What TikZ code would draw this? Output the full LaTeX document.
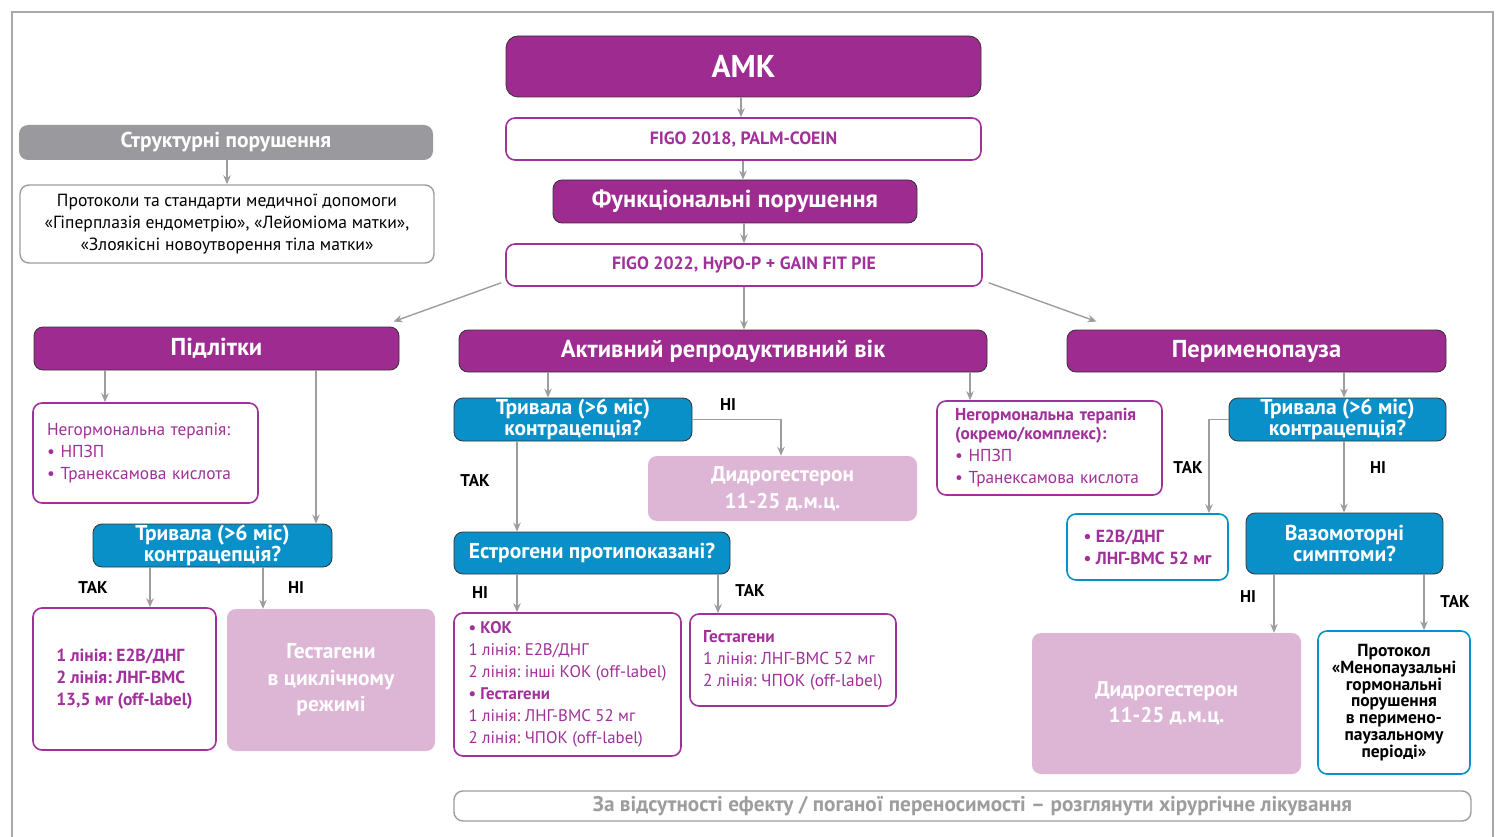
\documentclass[tikz,border=0pt]{standalone}
\usepackage{fontspec}
\setmainfont{PT Sans}
\usetikzlibrary{arrows.meta}
\definecolor{pur}{HTML}{9E2B8F}
\definecolor{purtxt}{HTML}{A1309A}
\definecolor{blu}{HTML}{0A90C8}
\definecolor{pinkf}{HTML}{DDB5D5}
\definecolor{gr}{HTML}{9D9D9D}
\definecolor{grfill}{HTML}{9A9A9E}
\definecolor{frame}{HTML}{A8A8A8}
\newcommand\mybox[7]{\node[#2, minimum width={(#5)-(#3)}, minimum height={(#6)-(#4)}] (#1) at ({((#3)+(#5))/2},{((#4)+(#6))/2}) {#7};}
\tikzset{
 box/.style={rounded corners=9pt, inner sep=0pt, align=center},
 head/.style={box, fill=pur, draw=black!80, line width=0.8pt, text=white, font=\bfseries\fontsize{24.5}{26}\selectfont},
 figo/.style={box, fill=white, draw=purtxt, line width=1.6pt, text=purtxt, font=\bfseries\fontsize{17.8}{19}\selectfont},
 qbox/.style={box, fill=blu, draw=black!80, line width=0.8pt, text=white, font=\bfseries\fontsize{21.5}{18}\selectfont},
 pbox/.style={box, fill=white, draw=purtxt, line width=1.6pt, text=purtxt, font=\fontsize{17.3}{22}\selectfont},
 bbox/.style={box, fill=white, draw=blu, line width=1.6pt},
 pinkbox/.style={box, fill=pinkf, text=white, font=\bfseries\fontsize{21.5}{26.5}\selectfont},
 arr/.style={-{Stealth[length=9pt,width=7.5pt]}, draw=gr, line width=1.4pt},
 lbl/.style={font=\bfseries\fontsize{17}{18}\selectfont, text=black},
}
\begin{document}
\frenchspacing
\begin{tikzpicture}[x=1pt,y=-1pt]
\useasboundingbox (0,0) rectangle (1500,837);
\draw[frame, line width=2pt] (12,845) -- (12,12) -- (1493,12) -- (1493,845);

% top chain
\mybox{amk}{head, font=\bfseries\fontsize{31.5}{34}\selectfont, rounded corners=12pt}{506}{36}{981}{97}{АМК}
\mybox{figo1}{figo}{506}{118}{981}{160}{FIGO 2018, PALM-COEIN}
\mybox{func}{head}{553}{180}{917}{223}{Функціональні порушення}
\mybox{figo2}{figo}{506}{244}{982}{286}{FIGO 2022, HyPO-P + GAIN FIT PIE}

% structural
\mybox{struct}{box, fill=grfill, text=white, font=\bfseries\fontsize{21.5}{22}\selectfont}{19}{125}{433}{160}{Структурні порушення}
\mybox{prot}{box, fill=white, draw=gr, line width=1.4pt, text=black, font=\fontsize{17.6}{22}\selectfont}{20}{185}{434}{263}{Протоколи та стандарти медичної допомоги\\«Гіперплазія ендометрію», «Лейоміома матки»,\\«Злоякісні новоутворення тіла матки»}

% teenagers
\mybox{podl}{head}{34}{327}{399}{370}{Підлітки}
\mybox{neg1}{pbox, align=left, text width=197pt}{33}{403}{258}{503}{Негормональна терапія:\\• НПЗП\\• Транексамова кислота}
\mybox{q1}{qbox}{93}{524}{332}{567}{Тривала (>6 міс)\\контрацепція?}
\mybox{l1}{pbox, align=left, font=\bfseries\fontsize{17.5}{22}\selectfont}{33}{608}{216}{750}{1 лінія: Е2В/ДНГ\\2 лінія: ЛНГ-ВМС\\13,5 мг (off-label)}
\mybox{p1}{pinkbox}{227}{609}{435}{751}{Гестагени\\в циклічному\\режимі}

% reproductive
\mybox{act}{head}{459}{330}{987}{372}{Активний репродуктивний вік}
\mybox{q2}{qbox}{454}{398}{692}{441}{Тривала (>6 міс)\\контрацепція?}
\mybox{did1}{pinkbox, font=\bfseries\fontsize{21.3}{27}\selectfont}{648}{456}{917}{521}{Дидрогестерон\\11-25 д.м.ц.}
\mybox{est}{qbox}{454}{532}{730}{574}{Естрогени протипоказані?}
\mybox{kok}{pbox, align=left, font=\fontsize{16.8}{22}\selectfont}{454}{613}{681}{756}{\textbf{• КОК}\\1 лінія: Е2В/ДНГ\\2 лінія: інші КОК (off-label)\\\textbf{• Гестагени}\\1 лінія: ЛНГ-ВМС 52 мг\\2 лінія: ЧПОК (off-label)}
\mybox{gest}{pbox, align=left}{690}{614}{896}{706}{\textbf{Гестагени}\\1 лінія: ЛНГ-ВМС 52 мг\\2 лінія: ЧПОК (off-label)}
\mybox{neg2}{pbox, align=left, text width=189pt}{937}{401}{1162}{495}{\textbf{Негормональна терапія}\\[-3pt]\textbf{(окремо/комплекс):}\\• НПЗП\\• Транексамова кислота}

% perimenopause
\mybox{per}{head}{1067}{330}{1446}{372}{Перименопауза}
\mybox{q3}{qbox}{1229}{398}{1446}{441}{Тривала (>6 міс)\\контрацепція?}
\mybox{e2b}{bbox, text=purtxt, align=left, font=\bfseries\fontsize{17.5}{22}\selectfont}{1067}{514}{1228}{580}{• Е2В/ДНГ\\• ЛНГ-ВМС 52 мг}
\mybox{vaz}{qbox}{1246}{513}{1443}{574}{Вазомоторні\\симптоми?}
\mybox{did2}{pinkbox, font=\bfseries\fontsize{21.3}{26.5}\selectfont}{1032}{633}{1301}{774}{Дидрогестерон\\11-25 д.м.ц.}
\mybox{proto}{bbox, text=black, font=\bfseries\fontsize{17.5}{16.8}\selectfont}{1318}{631}{1470}{774}{Протокол\\«Менопаузальні\\гормональні\\порушення\\в перимено-\\паузальному\\періоді»}

% bottom
\mybox{surg}{box, fill=white, draw=gr, line width=1.4pt, text=gr, font=\bfseries\fontsize{21.2}{22}\selectfont}{454}{791}{1471}{821}{\hspace*{20pt}За відсутності ефекту / поганої переносимості – розглянути хірургічне лікування}

% arrows
\draw[arr] (741,0 |- amk.south) -- (741,0 |- figo1.north);
\draw[arr] (743,0 |- figo1.south) -- (743,0 |- func.north);
\draw[arr] (744,0 |- func.south) -- (744,0 |- figo2.north);
\draw[arr] (744,0 |- figo2.south) -- (744,0 |- act.north);
\draw[arr] ([shift={(-4,-4)}]figo2.south west) -- ([shift={(-6,-5)}]podl.north east);
\draw[arr] ([shift={(6,-4)}]figo2.south east) -- ([shift={(30,-8)}]per.north west);
\draw[arr] (227,0 |- struct.south) -- (227,0 |- prot.north);
\draw[arr] (105,0 |- podl.south) -- (105,0 |- neg1.north);
\draw[arr] (316,0 |- podl.south) -- (316,0 |- q1.north);
\draw[arr] (150,0 |- q1.south) -- (150,0 |- l1.north);
\draw[arr] (263,0 |- q1.south) -- (263,0 |- p1.north);
\draw[arr] (548,0 |- act.south) -- (548,0 |- q2.north);
\draw[arr] (970,0 |- act.south) -- (970,0 |- neg2.north);
\draw[arr] (q2.east) -| (781,0 |- did1.north);
\draw[arr] (517,0 |- q2.south) -- (517,0 |- est.north);
\draw[arr] (517,0 |- est.south) -- (517,0 |- kok.north);
\draw[arr] (718,0 |- est.south) -- (718,0 |- gest.north);
\draw[arr] (1344,0 |- per.south) -- (1344,0 |- q3.north);
\draw[arr] (q3.west) -| (1209,0 |- e2b.north);
\draw[arr] (1344,0 |- q3.south) -- (1344,0 |- vaz.north);
\draw[arr] (1274,0 |- vaz.south) -- (1274,0 |- did2.north);
\draw[arr] (1424,0 |- vaz.south) -- (1424,0 |- proto.north);

% labels
\node[lbl] (t1) at (93,588) {ТАК};
\node[lbl] (n1) at (296,588) {НІ};
\node[lbl] (n2) at (728,405) {НІ};
\node[lbl] (t2) at (475,481) {ТАК};
\node[lbl] (n3) at (480,593) {НІ};
\node[lbl] (t3) at (750,591) {ТАК};
\node[lbl] (t4) at (1188,468) {ТАК};
\node[lbl] (n4) at (1378,468) {НІ};
\node[lbl] (n5) at (1248,597) {НІ};
\node[lbl] (t5) at (1455,602) {ТАК};
\end{tikzpicture}
\end{document}
